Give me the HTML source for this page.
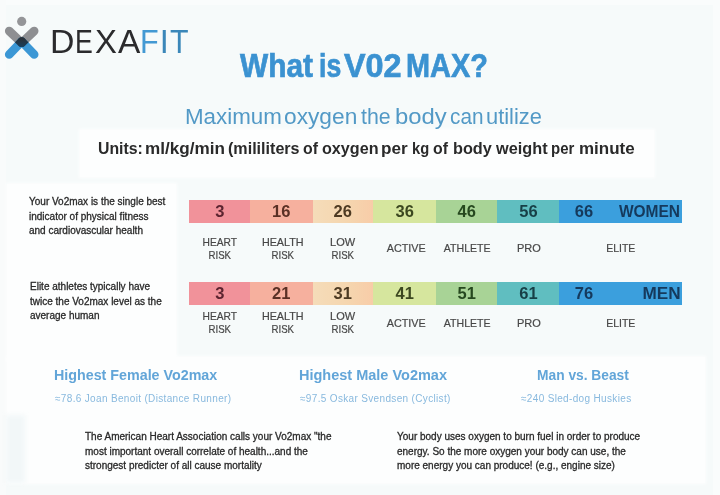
<!DOCTYPE html>
<html><head><meta charset="utf-8">
<style>
html,body{margin:0;padding:0;}
body{width:720px;height:495px;overflow:hidden;position:relative;background:#f6fafa;font-family:"Liberation Sans",sans-serif;}
.a{position:absolute;white-space:nowrap;line-height:1;}
.w{position:absolute;top:0;transform-origin:0 0;}
.panel{position:absolute;background:#fdfefe;box-shadow:0 0 3px 1px #fdfefe;}
.seg{position:absolute;top:0;height:100%;}
.bar{position:absolute;left:188px;width:494px;height:23px;}
.num{position:absolute;font-weight:bold;font-size:16.5px;line-height:1;top:3.2px;text-align:center;white-space:nowrap;}
.lbl{position:absolute;font-size:11px;line-height:13px;color:#474747;text-align:center;-webkit-text-stroke:0.2px #474747;}
.lbl span{display:block;}
.p{position:absolute;font-size:10px;line-height:14.7px;color:#2a2a2a;white-space:nowrap;-webkit-text-stroke:0.3px #2a2a2a;}
#wrap{position:absolute;left:0;top:0;width:720px;height:495px;filter:blur(0.5px);}
</style></head><body><div id="wrap">

<div style="position:absolute;left:0;top:0;width:720px;height:5px;background:#fafcfc;"></div>
<div style="position:absolute;left:713px;top:0;width:7px;height:495px;background:#fafcfc;"></div>
<div style="position:absolute;left:0;top:0;width:6px;height:495px;background:#f9fbfb;"></div>
<div class="panel" style="left:80px;top:130px;width:574px;height:47px;"></div>
<div class="panel" style="left:7px;top:184px;width:169px;height:176px;"></div>
<div class="panel" style="left:7px;top:357px;width:698px;height:126px;"></div>
<div style="position:absolute;left:6px;top:415px;width:19px;height:68px;background:#f2f7f8;filter:blur(2px);"></div>

<svg class="a" style="left:0;top:0;" width="45" height="62" viewBox="0 0 45 62">
  <defs><linearGradient id="dg" gradientUnits="userSpaceOnUse" x1="0" y1="37" x2="0" y2="47"><stop offset="0" stop-color="#2c2f33"/><stop offset="1" stop-color="#1a3f5c"/></linearGradient><mask id="mb" maskUnits="userSpaceOnUse" x="0" y="0" width="45" height="62"><g stroke="#fff" stroke-width="8.6" stroke-linecap="round">
  <line x1="9.2" y1="54.4" x2="21.7" y2="41.6"/><line x1="34.2" y1="54.4" x2="21.7" y2="41.6"/></g></mask></defs>
  <circle cx="21.7" cy="21.4" r="4.6" fill="#949598"/>
  <g stroke-linecap="round" stroke-width="8.6">
    <line x1="9.2" y1="31" x2="21.7" y2="42.8" stroke="#8e8f92"/>
    <line x1="34.2" y1="31" x2="21.7" y2="42.8" stroke="#8e8f92"/>
    <line x1="9.2" y1="54.4" x2="21.7" y2="41.6" stroke="#3b97d5"/>
    <line x1="34.2" y1="54.4" x2="21.7" y2="41.6" stroke="#3b97d5"/>
    <g mask="url(#mb)" stroke="url(#dg)">
    <line x1="9.2" y1="31" x2="21.7" y2="42.8"/>
    <line x1="34.2" y1="31" x2="21.7" y2="42.8"/>
    </g>
  </g>
</svg>

<div class="a" id="dexa" style="left:0;top:26.2px;font-size:32.5px;color:#2b2b2d;">
<span class="w" style="left:49.9px;transform:scaleX(1.04)">D</span><span class="w" style="left:75.07px;transform:scaleX(0.82)">E</span><span class="w" style="left:94.84px;transform:scaleX(1.01)">X</span><span class="w" style="left:117.8px;transform:scaleX(1.03)">A</span><span class="w" style="left:140.36px;transform:scaleX(0.94);color:#4399d3">F</span><span class="w" style="left:159.7px;color:#3b87b9">I</span><span class="w" style="left:169.8px;transform:scaleX(0.935);color:#3b87b9">T</span></div>

<div class="a" id="title" style="left:0;top:48.5px;font-size:33px;font-weight:bold;color:#3b92d1;-webkit-text-stroke:0.7px #3b92d1;">
<span class="w" style="left:239.7px;transform:scaleX(0.904)">What</span><span class="w" style="left:318.8px;transform:scaleX(0.807)">is</span><span class="w" style="left:343.8px;transform:scaleX(0.98)">V02</span><span class="w" style="left:406.25px;transform:scaleX(0.875)">MAX?</span></div>
<div class="a" id="sub" style="left:0;top:106.3px;font-size:22.3px;color:#5299c6;"><span class="w" style="left:185.15px;transform:scaleX(1.002)">Maximum</span><span class="w" style="left:284.38px;transform:scaleX(1.019)">oxygen</span><span class="w" style="left:361.01px;transform:scaleX(0.956)">the</span><span class="w" style="left:395.10px;transform:scaleX(1.070)">body</span><span class="w" style="left:449.67px;transform:scaleX(0.931)">can</span><span class="w" style="left:485.93px;transform:scaleX(0.980)">utilize</span></div>
<div class="a" id="units" style="left:0;top:140.6px;font-size:16px;font-weight:bold;color:#2a2a2a;"><span class="w" style="left:97.51px;transform:scaleX(0.989)">Units:</span><span class="w" style="left:144.63px;transform:scaleX(1.069)">ml/kg/min</span><span class="w" style="left:227.55px;transform:scaleX(1.006)">(mililiters</span><span class="w" style="left:302.81px;transform:scaleX(0.990)">of</span><span class="w" style="left:321.50px;transform:scaleX(1.009)">oxygen</span><span class="w" style="left:381.43px;transform:scaleX(1.069)">per</span><span class="w" style="left:411.88px;transform:scaleX(0.921)">kg</span><span class="w" style="left:433.11px;transform:scaleX(0.990)">of</span><span class="w" style="left:452.78px;transform:scaleX(1.016)">body</span><span class="w" style="left:495.60px;transform:scaleX(1.018)">weight</span><span class="w" style="left:550.87px;transform:scaleX(0.935)">per</span><span class="w" style="left:579.24px;transform:scaleX(1.061)">minute</span></div>

<div class="p" id="p1" style="left:29px;top:195px;">Your Vo2max is the single best<br>indicator of physical fitness<br>and cardiovascular health</div>
<div class="p" id="p2" style="left:30px;top:280px;">Elite athletes typically have<br>twice the Vo2max level as the<br>average human</div>

<div class="bar" style="top:200px;">
<div class="seg" style="left:1px;width:62.3px;background:#f1929a;"></div>
<div class="seg" style="left:62.3px;width:63.2px;background:#f6b09e;"></div>
<div class="seg" style="left:124.5px;width:61.5px;background:linear-gradient(90deg,#f5dcb9,#f5d6af 55%,#f8cca8);"></div>
<div class="seg" style="left:185px;width:63.5px;background:#d6e69e;"></div>
<div class="seg" style="left:247.5px;width:62.8px;background:#a8d396;"></div>
<div class="seg" style="left:309.3px;width:62.8px;background:#60bec0;"></div>
<div class="seg" style="left:371.1px;width:122.9px;background:#3b9fdd;"></div>
<div class="num" style="left:1.75px;width:60px;color:#5c2430;">3</div>
<div class="num" style="left:63.25px;width:60px;color:#5a3025;">16</div>
<div class="num" style="left:124.75px;width:60px;color:#4d3a22;">26</div>
<div class="num" style="left:186.75px;width:60px;color:#3c4820;">36</div>
<div class="num" style="left:248.75px;width:60px;color:#26481f;">46</div>
<div class="num" style="left:310.5px;width:60px;color:#173f46;">56</div>
<div class="num" style="left:366px;width:60px;color:#15395c;">66</div>
<div class="num" style="right:2.2px;transform:scaleX(0.94);transform-origin:100% 0;color:#15395c;">WOMEN</div>
</div>
<div class="lbl" style="left:188.8px;top:236px;width:61.5px;"><span style="transform:scaleX(0.93)">HEART</span><span style="transform:scaleX(0.88)">RISK</span></div>
<div class="lbl" style="left:251.8px;top:236px;width:61.5px;"><span style="transform:scaleX(0.98)">HEALTH</span><span style="transform:scaleX(0.88)">RISK</span></div>
<div class="lbl" style="left:311.8px;top:236px;width:61.5px;"><span style="transform:scaleX(1.0)">LOW</span><span style="transform:scaleX(0.88)">RISK</span></div>
<div class="lbl" style="left:374.5px;top:242px;width:62.5px;"><span style="transform:scaleX(0.98)">ACTIVE</span></div>
<div class="lbl" style="left:435.8px;top:242px;width:62.5px;"><span style="transform:scaleX(0.96)">ATHLETE</span></div>
<div class="lbl" style="left:498.3px;top:242px;width:61px;"><span style="transform:scaleX(1.0)">PRO</span></div>
<div class="lbl" style="left:559.3px;top:242px;width:123.5px;"><span style="transform:scaleX(0.95)">ELITE</span></div>
<div class="bar" style="top:282px;">
<div class="seg" style="left:1px;width:62.3px;background:#f1929a;"></div>
<div class="seg" style="left:62.3px;width:63.2px;background:#f6b09e;"></div>
<div class="seg" style="left:124.5px;width:61.5px;background:linear-gradient(90deg,#f5dcb9,#f5d6af 55%,#f8cca8);"></div>
<div class="seg" style="left:185px;width:63.5px;background:#d6e69e;"></div>
<div class="seg" style="left:247.5px;width:62.8px;background:#a8d396;"></div>
<div class="seg" style="left:309.3px;width:62.8px;background:#60bec0;"></div>
<div class="seg" style="left:371.1px;width:122.9px;background:#3b9fdd;"></div>
<div class="num" style="left:1.75px;width:60px;color:#5c2430;">3</div>
<div class="num" style="left:63.25px;width:60px;color:#5a3025;">21</div>
<div class="num" style="left:124.75px;width:60px;color:#4d3a22;">31</div>
<div class="num" style="left:186.75px;width:60px;color:#3c4820;">41</div>
<div class="num" style="left:248.75px;width:60px;color:#26481f;">51</div>
<div class="num" style="left:310.5px;width:60px;color:#173f46;">61</div>
<div class="num" style="left:366px;width:60px;color:#15395c;">76</div>
<div class="num" style="right:1px;transform:scaleX(1.04);transform-origin:100% 0;color:#15395c;">MEN</div>
</div>
<div class="lbl" style="left:188.8px;top:309.75px;width:61.5px;"><span style="transform:scaleX(0.93)">HEART</span><span style="transform:scaleX(0.88)">RISK</span></div>
<div class="lbl" style="left:251.8px;top:309.75px;width:61.5px;"><span style="transform:scaleX(0.98)">HEALTH</span><span style="transform:scaleX(0.88)">RISK</span></div>
<div class="lbl" style="left:311.8px;top:309.75px;width:61.5px;"><span style="transform:scaleX(1.0)">LOW</span><span style="transform:scaleX(0.88)">RISK</span></div>
<div class="lbl" style="left:374.5px;top:316.75px;width:62.5px;"><span style="transform:scaleX(0.98)">ACTIVE</span></div>
<div class="lbl" style="left:435.8px;top:316.75px;width:62.5px;"><span style="transform:scaleX(0.96)">ATHLETE</span></div>
<div class="lbl" style="left:498.3px;top:316.75px;width:61px;"><span style="transform:scaleX(1.0)">PRO</span></div>
<div class="lbl" style="left:559.3px;top:316.75px;width:123.5px;"><span style="transform:scaleX(0.95)">ELITE</span></div>

<div class="a" id="h1" style="left:54px;top:368px;font-size:14.5px;transform:scaleX(0.985);transform-origin:0 0;font-weight:bold;color:#62a5d8;">Highest Female Vo2max</div>
<div class="a" id="s1" style="margin-top:1.6px;left:55px;top:392px;font-size:10px;letter-spacing:0.34px;color:#88b9de;">≈78.6 Joan Benoit (Distance Runner)</div>
<div class="a" id="h2" style="left:299px;top:368px;font-size:14.5px;font-weight:bold;color:#62a5d8;">Highest Male Vo2max</div>
<div class="a" id="s2" style="margin-top:1.6px;left:300px;top:392px;font-size:10px;letter-spacing:0.34px;color:#88b9de;">≈97.5 Oskar Svendsen (Cyclist)</div>
<div class="a" id="h3" style="left:537.2px;top:368px;font-size:14.5px;transform:scaleX(0.95);transform-origin:0 0;font-weight:bold;color:#62a5d8;">Man vs. Beast</div>
<div class="a" id="s3" style="margin-top:1.6px;left:521px;top:392px;font-size:10px;letter-spacing:0.34px;color:#88b9de;">≈240 Sled-dog Huskies</div>

<div class="p" id="p3" style="left:85px;top:430px;">The American Heart Association calls your Vo2max "the<br>most important overall correlate of health...and the<br>strongest predicter of all cause mortality</div>
<div class="p" id="p4" style="left:397px;top:430px;">Your body uses oxygen to burn fuel in order to produce<br>energy. So the more oxygen your body can use, the<br>more energy you can produce! (e.g., engine size)</div>

</div></body></html>
